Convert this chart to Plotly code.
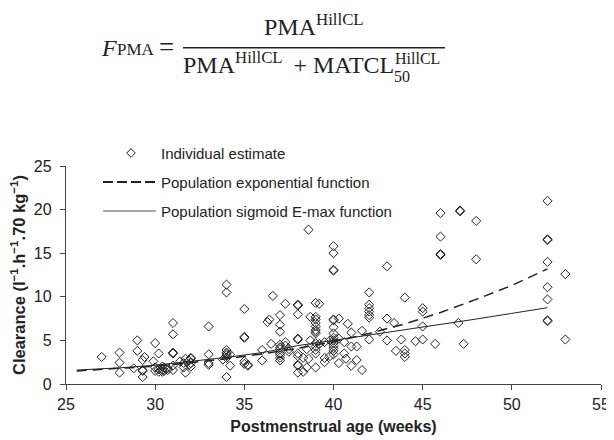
import plotly.graph_objects as go

# ---------------- data ----------------
pma_weeks = [
    27.0,
    28.0, 28.0, 28.0,
    28.8,
    29.0, 29.0,
    29.3, 29.3, 29.3, 29.3,
    29.4, 29.9,
    30.0, 30.0, 30.0,
    30.2, 30.2, 30.2,
    30.4, 30.4, 30.4,
    30.5, 30.5,
    30.7, 30.7,
    31.0, 31.0, 31.0, 31.0, 31.0, 31.0,
    31.4, 31.6, 31.6, 31.7, 31.7, 31.9, 31.9,
    32.0, 32.0, 32.0, 32.0,
    33.0, 33.0, 33.0, 33.0,
    33.8,
    34.0, 34.0, 34.0, 34.0, 34.0, 34.0, 34.0, 34.0,
    34.2, 34.2,
    35.0, 35.0, 35.0, 35.0, 35.0,
    35.2, 35.2,
    36.0, 36.0, 36.3, 36.4, 36.5, 36.6,
    37.0, 37.0, 37.0, 37.0, 37.0, 37.0, 37.0, 37.0, 37.0, 37.0,
    37.3, 37.3, 37.3, 37.5, 37.5,
    38.0, 38.0, 38.0, 38.0, 38.0, 38.0, 38.0, 38.0, 38.0, 38.0,
    38.3, 38.3, 38.5, 38.5, 38.6, 38.6, 38.7, 38.7,
    39.0, 39.0, 39.0, 39.0, 39.0, 39.0, 39.0, 39.0, 39.0, 39.0, 39.0, 39.0, 39.0,
    39.2, 39.2, 39.5, 39.5, 39.5, 39.8, 39.8,
    40.0, 40.0, 40.0, 40.0, 40.0, 40.0, 40.0, 40.0, 40.0, 40.0, 40.0, 40.0, 40.0, 40.0, 40.0,
    40.3, 40.3, 40.3, 40.6, 40.6, 40.7, 40.8,
    41.0, 41.0, 41.0, 41.3, 41.3, 41.6, 41.6,
    42.0, 42.0, 42.0, 42.0, 42.0, 42.0, 42.0,
    42.6, 43.0, 43.0, 43.0, 43.4, 43.5, 43.8,
    44.0, 44.0, 44.0, 44.0, 44.6,
    45.0, 45.0, 45.0, 45.0, 45.7,
    46.0, 46.0, 46.0, 46.0,
    47.0, 47.1, 47.1, 47.3,
    48.0, 48.0,
    52.0, 52.0, 52.0, 52.0, 52.0, 52.0, 52.0, 52.0,
    53.0, 53.0,
]
clearance = [
    3.1,
    3.6, 2.45, 1.3,
    1.8,
    5.0, 3.8,
    1.6, 1.5, 0.8, 2.75,
    3.1, 2.6,
    4.7, 1.9, 1.5,
    3.5, 1.7, 1.4,
    1.6, 1.4, 2.0,
    1.5, 1.9,
    1.6, 1.8,
    7.0, 5.7, 3.6, 3.5, 2.1, 1.6,
    2.6, 2.4, 1.9, 1.3, 2.9, 2.7, 2.2,
    3.0, 2.9, 2.0, 2.4,
    6.6, 3.4, 2.4, 2.2,
    2.8,
    11.4, 10.5, 3.9, 3.6, 3.3, 3.0, 0.8, 3.5,
    2.1, 3.4,
    8.6, 5.4, 5.3, 2.6, 2.3,
    2.1, 2.2,
    3.9, 2.7, 7.1, 7.4, 4.6, 10.1,
    7.9, 6.8, 6.0, 4.5, 4.0, 3.5, 3.0, 2.7, 3.3, 4.2,
    9.2, 4.8, 4.4, 4.0, 3.7,
    9.1, 9.0, 8.0, 5.2, 5.1, 3.5, 3.2, 2.2, 2.1, 1.3,
    1.4, 3.0, 1.9, 4.0, 17.7, 2.9, 7.7, 5.0,
    9.3, 7.7, 7.4, 7.0, 6.6, 6.2, 6.0, 5.8, 4.7, 4.3, 3.9, 3.5, 1.9,
    9.2, 4.6, 3.0, 2.5, 4.8, 5.0, 3.2,
    15.8, 15.0, 13.1, 13.0, 7.4, 7.3, 6.5, 5.8, 5.3, 5.0, 4.7, 4.4, 4.1, 3.8, 3.4,
    7.5, 2.4, 5.2, 3.5, 4.8, 2.9, 6.9,
    5.9, 4.3, 2.1, 2.75, 4.3, 6.1, 1.6,
    10.5, 9.1, 8.7, 8.3, 7.9, 7.6, 5.1,
    6.0, 13.5, 7.5, 5.0, 7.0, 3.8, 5.1,
    9.9, 3.9, 3.5, 3.1, 4.9,
    8.7, 8.3, 6.6, 5.1, 4.6,
    19.6, 16.9, 14.9, 14.8,
    7.0, 19.9, 19.8, 4.6,
    18.7, 14.3,
    21.0, 16.6, 16.5, 14.0, 11.1, 9.7, 7.3, 7.2,
    12.6, 5.1,
]

curve_pma = [25.6, 28, 30, 32, 34, 36, 38, 40, 42, 44, 46, 48, 50, 52]
exp_clearance = [1.5, 1.8, 2.05, 2.45, 2.9, 3.45, 4.1, 4.85, 5.8, 6.9, 8.2, 9.7, 11.3, 13.2]
sigmoid_clearance = [1.6, 1.85, 2.15, 2.6, 3.05, 3.6, 4.4, 5.0, 5.6, 6.2, 6.85, 7.45, 8.1, 8.75]

x_ticks = [25, 30, 35, 40, 45, 50, 55]
y_ticks = [0, 5, 10, 15, 20, 25]

legend_labels = ["Individual estimate", "Population exponential function",
                 "Population sigmoid E-max function"]

# ---------------- layout helpers (page pixel positions) ----------------
OFF = 8                     # default body margin of the html page
W, H = 614 - OFF, 440 - OFF
PL, PR, PT, PB = 66, 601, 166, 384     # plot area edges on the page
ML, MR, MT, MB = PL - OFF, W - (PR - OFF), PT - OFF, H - (PB - OFF)
PW, PH = PR - PL, PB - PT


def fx(p):
    return (p - PL) / PW


def fy(p):
    return (PB - p) / PH


INK = "#222222"
AXIS = "#444444"
SANS = "Liberation Sans, Arial, sans-serif"
SERIF = "Liberation Serif, Times New Roman, serif"

fig = go.Figure()
fig.add_trace(go.Scatter(
    x=pma_weeks, y=clearance, mode="markers", name=legend_labels[0],
    marker=dict(symbol="diamond-open", size=7, color=INK, line=dict(width=1, color=INK)),
    showlegend=False))
fig.add_trace(go.Scatter(
    x=curve_pma, y=exp_clearance, mode="lines", name=legend_labels[1],
    line=dict(color=INK, width=1.5, dash="10px,6px"), showlegend=False))
fig.add_trace(go.Scatter(
    x=curve_pma, y=sigmoid_clearance, mode="lines", name=legend_labels[2],
    line=dict(color=INK, width=1), showlegend=False))

shapes = []
annotations = []

# ---- custom legend ----
cx, cy, r = 131, 153, 4.3
shapes.append(dict(
    type="path", xref="paper", yref="paper",
    path=f"M {fx(cx - r)},{fy(cy)} L {fx(cx)},{fy(cy - r)} L {fx(cx + r)},{fy(cy)} L {fx(cx)},{fy(cy + r)} Z",
    line=dict(color=INK, width=1)))
shapes.append(dict(type="line", xref="paper", yref="paper",
                   x0=fx(103), x1=fx(156), y0=fy(182), y1=fy(182),
                   line=dict(color=INK, width=1.8, dash="10px,4px")))
shapes.append(dict(type="line", xref="paper", yref="paper",
                   x0=fx(103), x1=fx(156), y0=fy(211), y1=fy(211),
                   line=dict(color="#555555", width=1)))
for lbl, yy in zip(legend_labels, [153, 182, 211]):
    annotations.append(dict(
        text=lbl, xref="paper", yref="paper", x=fx(159), y=fy(yy),
        xanchor="left", yanchor="middle", showarrow=False,
        font=dict(family=SANS, size=15, color=INK)))

# ---- formula ----
def txt(t, x, ybottom, size, anchor="left"):
    annotations.append(dict(
        text=t, xref="paper", yref="paper", x=fx(x), y=fy(ybottom),
        xanchor=anchor, yanchor="bottom", showarrow=False, borderpad=0,
        font=dict(family=SERIF, size=size, color=INK)))

txt("<i>F</i>", 100, 62, 24)
txt("PMA", 116, 60.5, 17)
txt("=", 158, 63, 27)
txt("PMA<sup>HillCL</sup>", 314, 41, 24, anchor="center")
shapes.append(dict(type="line", xref="paper", yref="paper",
                   x0=fx(183), x1=fx(445), y0=fy(47.7), y1=fy(47.7),
                   line=dict(color=INK, width=1.4)))
txt("PMA<sup>HillCL</sup>\u2009 + MATCL", 182, 79, 24)
txt("50", 393, 86.5, 16)
txt("HillCL", 394, 68.5, 16)

axis_common = dict(
    showline=True, linecolor=AXIS, linewidth=1.3, ticks="outside", ticklen=5,
    tickcolor=AXIS, tickwidth=1.3, showgrid=False, zeroline=False, automargin=False,
    tickfont=dict(family=SANS, size=16, color=INK),
)

fig.update_layout(
    width=W, height=H,
    margin=dict(l=ML, r=MR, t=MT, b=MB, pad=0, autoexpand=False),
    paper_bgcolor="white", plot_bgcolor="white",
    xaxis=dict(range=[25, 55], tickvals=x_ticks, ticklabelstandoff=1,
               title=dict(text="Postmenstrual age (weeks)", standoff=8,
                          font=dict(family=SANS, size=16, color=INK, weight="bold")),
               **axis_common),
    yaxis=dict(range=[0, 25], tickvals=y_ticks, ticklabelstandoff=5,
               title=dict(text="Clearance (l<sup>−1</sup>.h<sup>−1</sup>.70 kg<sup>−1</sup>)", standoff=7,
                          font=dict(family=SANS, size=16.5, color=INK, weight="bold")),
               **axis_common),
    shapes=shapes, annotations=annotations,
    showlegend=False,
)

fig.write_html("out.html")
